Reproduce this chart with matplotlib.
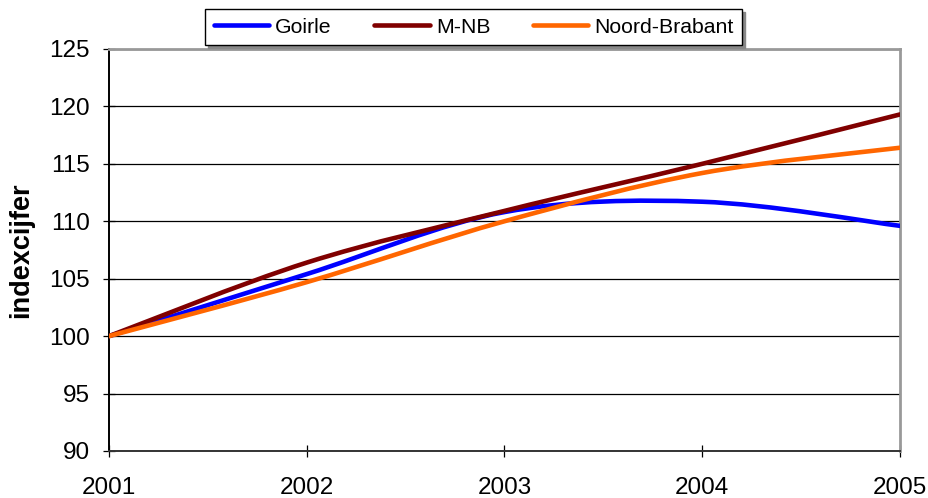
import matplotlib
matplotlib.use('Agg')
import matplotlib.pyplot as plt
from matplotlib.path import Path
from matplotlib.patches import PathPatch
from matplotlib.lines import Line2D

plt.rcParams['font.family'] = ['Liberation Sans', 'DejaVu Sans']

# index values (2001 = 100)
years = [2001, 2002, 2003, 2004, 2005]
goirle = [100, 105.4, 110.8, 111.7, 109.6]
mnb = [100, 106.4, 110.9, 115.0, 119.3]
noord_brabant = [100, 104.7, 110.0, 114.2, 116.4]

series = [('Goirle', goirle, '#0000FF'),
          ('M-NB', mnb, '#800000'),
          ('Noord-Brabant', noord_brabant, '#FF6600')]


def smooth_path(xs, ys):
    # Excel style smoothed line: cubic bezier through the points
    pts = list(zip(xs, ys))
    n = len(pts)
    verts = [pts[0]]
    codes = [Path.MOVETO]
    for i in range(n - 1):
        p0 = pts[max(i - 1, 0)]
        p1 = pts[i]
        p2 = pts[i + 1]
        p3 = pts[min(i + 2, n - 1)]
        c1 = (p1[0] + (p2[0] - p0[0]) / 6, p1[1] + (p2[1] - p0[1]) / 6)
        c2 = (p2[0] - (p3[0] - p1[0]) / 6, p2[1] - (p3[1] - p1[1]) / 6)
        verts += [c1, c2, p2]
        codes += [Path.CURVE4] * 3
    return Path(verts, codes)


fig = plt.figure(figsize=(9.29, 4.98), dpi=100)
ax = fig.add_axes([0.1173, 0.0944, 0.8515, 0.8073])

for name, vals, col in series:
    ax.add_patch(PathPatch(smooth_path(years, vals), fill=False, edgecolor=col,
                           lw=3.3, capstyle='round', joinstyle='round', zorder=3))

ax.set_xlim(2001, 2005)
ax.set_ylim(90, 125)
ax.set_xticks(years)
ax.set_yticks(range(90, 126, 5))
ax.yaxis.grid(True, color='black', lw=0.9)
ax.set_axisbelow(True)

ax.spines['left'].set_color('black')
ax.spines['left'].set_linewidth(1.4)
ax.spines['bottom'].set_color('#333333')
ax.spines['bottom'].set_linewidth(1.4)
for s in ['top', 'right']:
    ax.spines[s].set_color('#999999')
    ax.spines[s].set_linewidth(2)
ax.tick_params(axis='both', direction='inout', length=9, width=0.9, labelsize=17.5)
ax.tick_params(axis='y', pad=9.5)
ax.tick_params(axis='x', pad=14.5)
ax.set_ylabel('indexcijfer', fontsize=19.5, fontweight='bold')
ax.yaxis.set_label_coords(-0.095, 0.5)

handles = [Line2D([0], [0], color=col, lw=3.3, solid_capstyle='round')
           for _, _, col in series]
labels = [name for name, _, _ in series]
leg = fig.legend(handles, labels, loc='center', bbox_to_anchor=(0.510, 0.945),
                 ncol=3, fontsize=15.3, frameon=True, fancybox=False,
                 shadow={'color': '#888888', 'alpha': 1}, handlelength=2.6,
                 columnspacing=2.0, handletextpad=0.3, borderpad=0.4)
leg.get_frame().set_edgecolor('black')
leg.get_frame().set_linewidth(1)

fig.savefig('out.png', dpi=100)
